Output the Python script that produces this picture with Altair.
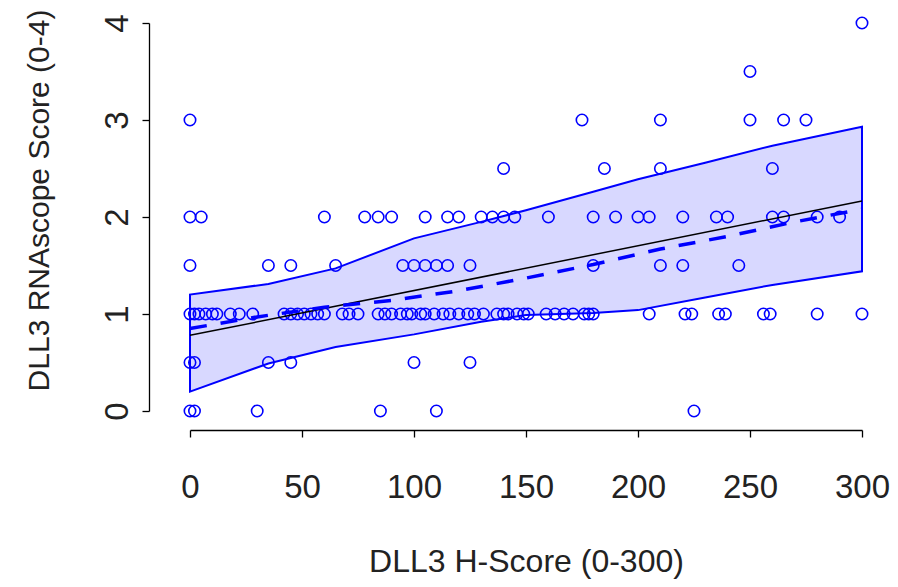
import altair as alt
import pandas as pd

# Observed points, grouped by RNAscope score (y) -> H-score values (x)
y0_x = [0, 2, 30, 85, 110, 225]
y05_x = [0, 2, 35, 45, 100, 125]
y1_x = [0, 2, 4, 7, 10, 12, 18, 22, 28, 42, 45, 48, 51, 54, 57, 60, 68, 71, 75,
        84, 87, 90, 94, 97, 99, 103, 105, 109, 113, 116, 120, 124, 127, 131, 137,
        140, 142, 146, 149, 151, 159, 163, 167, 171, 176, 178, 180, 205, 221, 224,
        236, 239, 256, 259, 280, 300]
y15_x = [0, 35, 45, 65, 95, 100, 105, 110, 115, 125, 180, 210, 220, 245]
y2_x = [0, 5, 60, 78, 84, 90, 105, 115, 120, 130, 135, 140, 145, 160, 180, 190,
        200, 205, 220, 235, 240, 260, 265, 280, 290]
y25_x = [140, 185, 210, 260]
y3_x = [0, 175, 210, 250, 265, 275]
y35_x = [250]
y4_x = [300]

groups = [(0, y0_x), (0.5, y05_x), (1, y1_x), (1.5, y15_x), (2, y2_x),
          (2.5, y25_x), (3, y3_x), (3.5, y35_x), (4, y4_x)]
pts = pd.DataFrame([{"x": x, "y": yv} for yv, xs in groups for x in xs])

# Confidence band
band_x = [0, 35, 65, 100, 130, 150, 180, 200, 230, 260, 300]
band_upper = [1.20, 1.31, 1.47, 1.78, 1.95, 2.07, 2.26, 2.39, 2.56, 2.735, 2.93]
band_lower = [0.20, 0.49, 0.66, 0.79, 0.92, 0.99, 1.01, 1.04, 1.17, 1.30, 1.44]
band = pd.DataFrame({"x": band_x, "lo": band_lower, "hi": band_upper})

# Dashed smooth fit
fit_x = [0, 30, 60, 90, 120, 150, 180, 210, 240, 270, 300]
fit_y = [0.85, 0.97, 1.07, 1.14, 1.24, 1.37, 1.51, 1.67, 1.80, 1.95, 2.08]
fit = pd.DataFrame({"x": fit_x, "y": fit_y})

# Linear regression line
lin_x = [0, 300]
lin_y = [0.78, 2.165]
lin = pd.DataFrame({"x": lin_x, "y": lin_y})

FONT = "Liberation Sans"

xscale = alt.Scale(domain=[0, 300], nice=False, zero=False)
yscale = alt.Scale(domain=[0, 4], nice=False, zero=False)

xaxis = alt.Axis(values=[0, 50, 100, 150, 200, 250, 300], title="DLL3 H-Score (0-300)",
                 format="d", offset=19, tickSize=7, labelPadding=60, labelFontSize=33,
                 labelBaseline="alphabetic", titleY=141, titleBaseline="alphabetic",
                 titleFontSize=32)
yaxis = alt.Axis(values=[0, 1, 2, 3, 4], title="DLL3 RNAscope Score (0-4)",
                 format="d", offset=41, tickSize=7, labelPadding=15, labelAngle=270,
                 labelAlign="center", labelBaseline="alphabetic", labelFontSize=33,
                 titleX=-101, titleY=177, titleBaseline="alphabetic", titleAngle=270,
                 titleFontSize=30)

band_layer = alt.Chart(band).mark_area(color="#D8D8FF", stroke="#0000FF",
                                       strokeWidth=2, opacity=1).encode(
    x=alt.X("x:Q", scale=xscale, axis=xaxis),
    y=alt.Y("lo:Q", scale=yscale, axis=yaxis),
    y2="hi:Q",
)

pt_layer = alt.Chart(pts).mark_point(shape="circle", filled=False, color="#0000FF",
                                     size=130, strokeWidth=1.6, opacity=1).encode(
    x="x:Q", y="y:Q")

lin_layer = alt.Chart(lin).mark_line(color="black", strokeWidth=1.5).encode(
    x="x:Q", y="y:Q")

fit_layer = alt.Chart(fit).mark_line(color="#0000FF", strokeWidth=3.5,
                                     strokeDash=[17, 14]).encode(x="x:Q", y="y:Q")

chart = alt.layer(band_layer, pt_layer, lin_layer, fit_layer).properties(
    width=672, height=388,
    padding={"left": 182, "top": 15, "right": 28, "bottom": 168},
    autosize=alt.AutoSizeParams(type="none"),
).configure_view(stroke=None).configure_axis(
    grid=False, domainColor="black", tickColor="black", domainWidth=1.3,
    tickWidth=1.3, labelFont=FONT, titleFont=FONT,
    labelColor="#222", titleColor="#222",
    titleFontWeight="normal", labelFlush=False, labelOverlap=False,
)

chart.save("out.html", embed_options={"renderer": "svg", "actions": False})
